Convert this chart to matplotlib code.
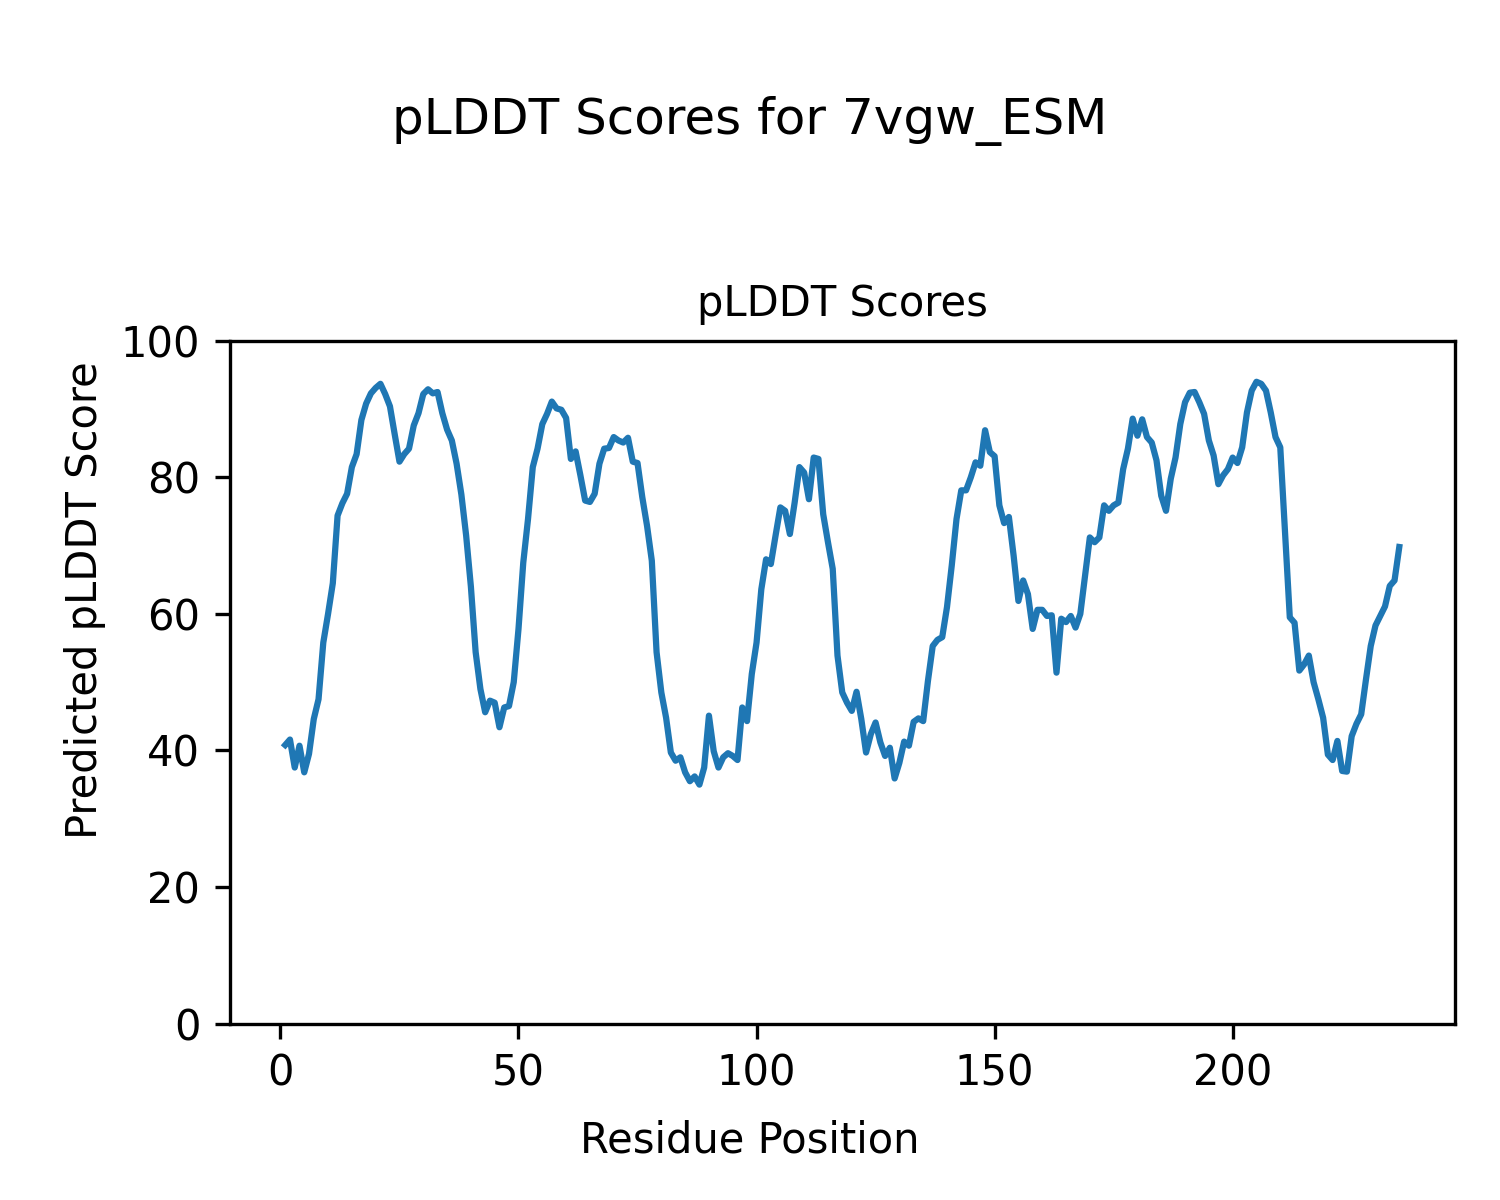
import numpy as np
import matplotlib
matplotlib.use("Agg")
import matplotlib.pyplot as plt


protein = "7vgw_ESM"

# per-residue pLDDT, residues 1..235
plddt = [
    40.8, 41.6, 37.5, 40.7, 36.8, 39.5, 44.6, 47.5, 55.8, 60.0,
    64.5, 74.4, 76.2, 77.6, 81.5, 83.4, 88.4, 90.8, 92.3, 93.1,
    93.7, 92.2, 90.4, 86.3, 82.3, 83.4, 84.2, 87.6, 89.4, 92.2,
    92.9, 92.3, 92.5, 89.4, 87.0, 85.4, 82.0, 77.5, 71.5, 64.0,
    54.4, 49.0, 45.6, 47.3, 47.0, 43.4, 46.3, 46.5, 50.0, 57.8,
    67.5, 73.9, 81.5, 84.2, 87.8, 89.3, 91.1, 90.1, 89.9, 88.7,
    82.7, 83.8, 80.3, 76.6, 76.4, 77.6, 82.0, 84.2, 84.3, 85.9,
    85.4, 85.1, 85.8, 82.3, 82.1, 77.1, 72.9, 67.8, 54.4, 48.5,
    44.8, 39.7, 38.5, 39.0, 36.8, 35.5, 36.2, 35.0, 37.5, 45.1,
    39.9, 37.5, 39.0, 39.6, 39.2, 38.6, 46.3, 44.3, 51.2, 55.8,
    63.6, 68.0, 67.3, 71.5, 75.6, 75.1, 71.7, 76.3, 81.5, 80.7,
    76.8, 82.9, 82.7, 74.6, 70.5, 66.6, 53.9, 48.5, 47.0, 45.8,
    48.6, 44.6, 39.7, 42.4, 44.1, 41.2, 39.2, 40.4, 35.9, 38.2,
    41.3, 40.7, 44.2, 44.7, 44.3, 50.2, 55.3, 56.2, 56.6, 61.0,
    67.1, 73.9, 78.1, 78.1, 80.0, 82.2, 81.7, 86.9, 83.7, 83.1,
    75.9, 73.3, 74.2, 68.5, 61.9, 64.9, 62.9, 57.8, 60.6, 60.6,
    59.7, 59.8, 51.4, 59.3, 58.8, 59.7, 58.0, 60.0, 65.6, 71.2,
    70.5, 71.2, 75.9, 75.1, 75.9, 76.3, 81.2, 84.2, 88.6, 86.1,
    88.5, 85.9, 85.1, 82.5, 77.3, 75.1, 79.8, 82.9, 87.8, 91.0,
    92.4, 92.5, 91.0, 89.3, 85.4, 83.2, 79.0, 80.3, 81.2, 82.9,
    82.1, 84.4, 89.5, 92.7, 94.0, 93.7, 92.7, 89.5, 85.9, 84.4,
    72.0, 59.5, 58.7, 51.7, 52.6, 53.9, 50.0, 47.5, 44.8, 39.4,
    38.6, 41.4, 37.0, 36.9, 42.1, 43.9, 45.3, 50.4, 55.3, 58.3,
    59.7, 61.1, 64.1, 64.9, 69.8,
]
residues = np.arange(1, len(plddt) + 1)


def plddtGraph(scores, ax=None):
    if ax is None:
        ax = plt.gca()
    ax.plot(residues, scores, color="#1f77b4", linewidth=1.5)
    ax.set_ylim(0, 100)
    ax.set_title("pLDDT Scores", fontsize=10)
    return ax


def main():
    fig, ax = plt.subplots(figsize=(5, 4), dpi=300)
    fig.subplots_adjust(left=0.153, right=0.97, bottom=0.147, top=0.716)
    plddtGraph(plddt, ax)
    fig.suptitle("pLDDT Scores for {}".format(protein), fontsize=12, y=0.920)
    # labels are shared at figure level
    fig.supxlabel("Residue Position", fontsize=10, y=0.032)
    fig.supylabel("Predicted pLDDT Score", fontsize=10, x=0.043)
    fig.savefig("out.png", dpi=300)


if __name__ == "__main__":
    main()
